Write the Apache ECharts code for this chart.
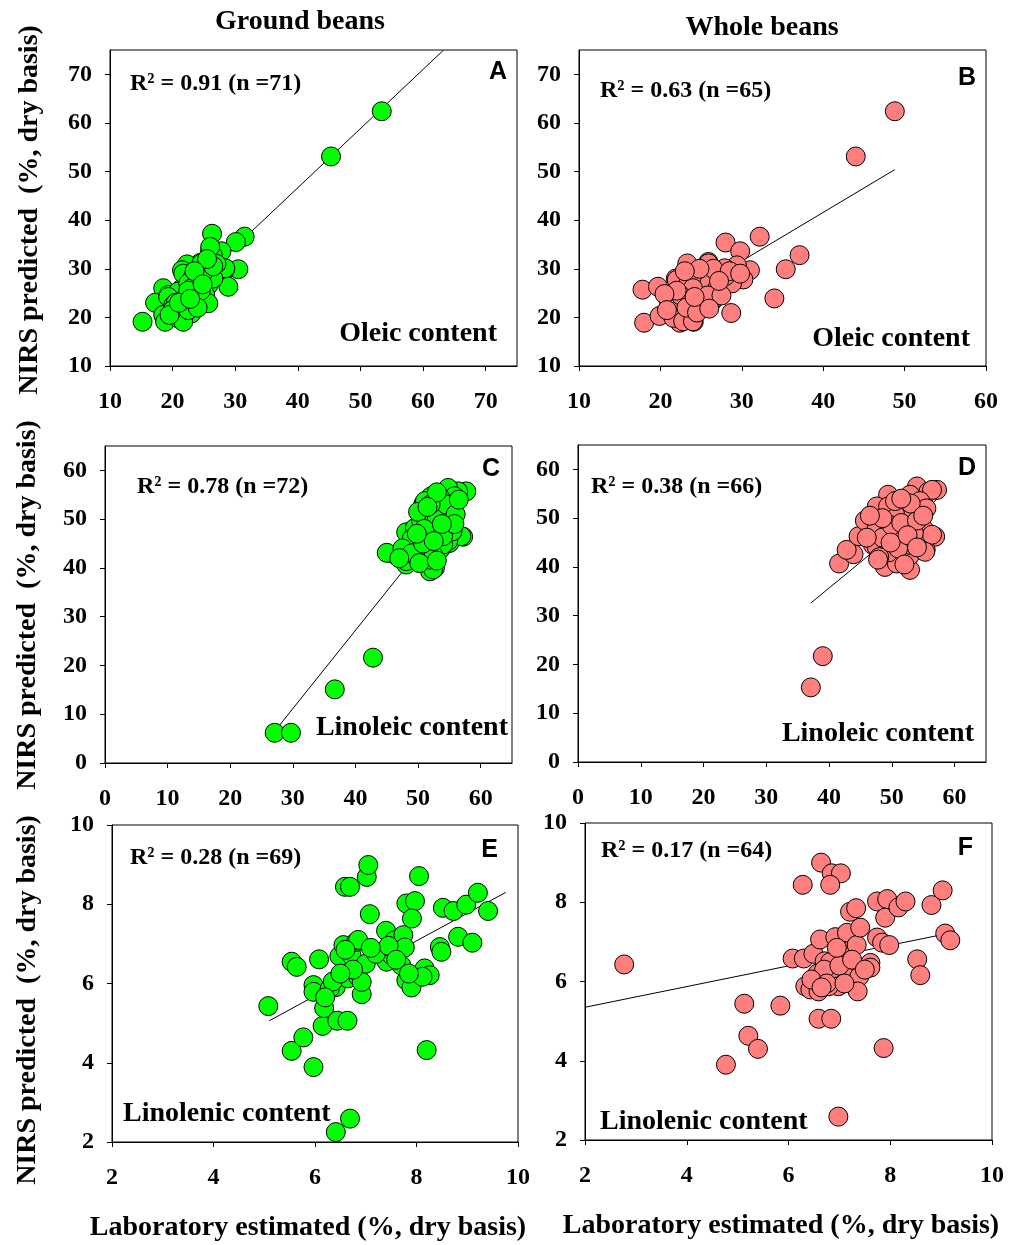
<!DOCTYPE html>
<html>
<head>
<meta charset="utf-8">
<script src="https://cdn.jsdelivr.net/npm/echarts@6/dist/echarts.min.js"></script>
<style>
  html, body { margin: 0; padding: 0; background: #fff; }
  #chart { width: 1010px; height: 1245px; }
</style>
</head>
<body>
<div id="chart"></div>
<script>
// ---- Oleic acid: laboratory value vs NIRS prediction ----
const oleicGround = [
  [53.4,62.4],[45.3,53.1],[31.5,36.6],[30.1,35.5],[26.3,37.2],[27.8,33.6],[26.0,33.7],[26.4,32.8],
  [30.5,29.9],[28.4,29.9],[28.9,26.3],[26.0,29.2],[24.4,31.2],[22.3,30.9],[21.5,29.7],[23.2,27.8],
  [25.3,26.3],[25.4,23.2],[24.0,23.6],[23.0,20.8],[21.7,19.8],[21.1,25.3],[21.5,26.0],[19.9,23.6],
  [18.5,26.0],[17.2,23.0],[18.5,20.5],[18.8,19.1],[15.2,19.1],[22.3,22.9],[21.2,21.1],[23.8,24.9],
  [20.7,24.2],[19.3,24.6],[26.0,34.5],[24.6,31.1],[21.7,29.0],[25.7,26.6],[20.9,25.3],[23.8,25.6],
  [25.2,24.6],[19.3,24.2],[23.8,23.6],[25.7,22.9],[20.1,22.5],[21.7,21.8],[20.9,19.8],[21.7,19.1],
  [23.1,28.0],[28.4,30.1],[22.5,27.0],[24.0,28.5],[23.0,26.0],[24.5,27.0],[22.0,24.0],[20.5,23.0],
  [24.5,25.5],[26.5,28.0],[27.0,31.0],[25.0,29.5],[22.5,25.5],[20.0,21.5],[19.5,20.5],[22.5,21.5],
  [24.0,22.0],[26.5,30.5],[25.5,32.0],[23.5,29.5],[21.0,23.0],[22.8,23.8],[24.8,26.8]
];
const oleicWhole = [
  [48.8,62.4],[44.0,53.1],[32.2,36.6],[37.1,32.8],[35.4,29.9],[34.0,23.9],[28.7,20.9],[28.0,35.4],
  [29.8,33.6],[31.0,29.7],[29.4,30.4],[30.2,27.8],[17.8,25.7],[18.0,18.9],[19.7,26.3],[19.9,20.3],
  [21.1,23.6],[23.3,31.1],[23.0,25.3],[24.1,19.1],[22.4,18.9],[25.5,29.4],[25.4,26.0],[26.5,23.6],
  [25.9,31.4],[27.3,29.0],[21.9,28.0],[21.8,20.5],[29.4,30.7],[25.9,31.1],[27.9,30.1],[27.3,28.7],
  [28.8,27.0],[22.0,27.7],[25.3,25.6],[21.0,23.6],[23.8,23.2],[26.3,23.3],[22.4,21.8],[25.1,22.5],
  [21.6,19.9],[22.8,19.2],[24.0,19.2],[23.5,27.5],[24.5,28.5],[26.0,27.0],[24.0,26.0],[22.5,24.5],
  [27.0,26.0],[28.0,28.5],[26.5,30.0],[24.8,30.0],[23.0,29.5],[25.8,24.5],[27.5,24.5],[22.0,25.5],
  [20.5,24.8],[23.2,22.0],[24.5,21.0],[26.0,21.8],[28.5,29.5],[29.8,29.0],[20.8,21.5],[24.2,24.2],
  [27.2,27.5]
];

// ---- Linoleic acid ----
const linoleicGround = [
  [27.1,6.2],[29.7,6.2],[36.7,15.1],[42.8,21.6],
  [48.1,47.3],[46.3,42.7],[45.0,43.1],[48.1,40.7],[48.9,41.7],[51.9,39.3],[52.7,40.0],[55.0,45.1],
  [57.2,46.4],[57.7,55.7],[56.4,55.7],[54.8,56.4],[53.7,51.6],[52.1,54.7],[50.8,53.0],[51.9,50.6],
  [53.2,47.5],[50.0,43.8],[53.7,44.1],[55.3,49.9],[55.8,54.7],[51.1,53.7],[53.5,52.0],[51.9,51.3],
  [55.3,52.0],[54.8,49.9],[52.7,48.9],[51.6,50.6],[56.9,46.5],[54.8,45.5],[52.9,47.5],[49.5,48.2],
  [50.5,46.2],[49.7,44.4],[48.1,41.4],[51.3,42.7],[53.5,43.8],[52.4,39.7],[51.9,41.7],[54.0,44.8],
  [50.5,49.5],[52.0,46.0],[53.0,50.0],[54.5,48.0],[49.0,46.0],[50.0,51.5],[53.5,54.5],[55.5,47.5],
  [51.0,44.5],[52.5,42.5],[47.5,44.0],[49.0,43.0],[50.2,41.0],[53.0,41.5],[54.5,53.0],[56.0,51.0],
  [52.0,53.0],[51.0,48.0],[54.0,46.5],[55.8,49.0],[47.0,42.0],[50.8,45.0],[53.8,49.0],[52.5,45.5],
  [49.8,47.0],[56.5,54.0],[53.0,55.5],[51.5,52.5]
];
const linoleicWhole = [
  [37.1,15.3],[39.0,21.7],[41.6,40.7],[43.9,42.6],[42.8,43.5],[44.7,46.3],[45.7,49.5],[47.8,52.0],
  [49.4,54.8],[48.9,40.0],[52.9,39.4],[50.5,42.6],[54.0,56.5],[57.2,55.8],[55.8,55.4],[52.9,54.8],
  [52.1,51.7],[56.9,46.2],[55.0,47.9],[54.5,45.5],[55.4,43.5],[49.4,47.6],[47.6,47.9],[47.0,44.5],
  [48.9,44.5],[50.8,46.2],[52.4,42.1],[49.2,51.7],[50.5,50.0],[56.4,55.8],[47.6,52.4],[51.8,52.0],
  [49.4,52.4],[50.8,50.3],[53.4,51.7],[56.4,46.6],[47.6,44.1],[50.5,42.4],[52.9,42.4],[50.8,40.7],
  [55.3,43.1],[51.3,45.9],[52.4,48.3],[48.5,46.0],[50.0,48.5],[51.5,49.0],[53.5,47.0],[54.0,49.5],
  [53.0,44.5],[49.5,43.0],[48.0,42.0],[51.0,43.8],[52.0,40.5],[54.5,53.5],[55.5,52.0],[53.0,53.0],
  [50.5,53.5],[48.5,50.0],[46.5,50.5],[46.0,46.0],[49.8,45.0],[52.5,46.5],[54.0,44.0],[51.5,54.0],
  [55.0,50.5],[47.8,41.5]
];

// ---- Linolenic acid ----
const linolenicGround = [
  [5.08,5.43],[5.54,6.55],[5.64,6.42],[5.54,4.30],[5.77,4.64],[5.97,3.89],[6.08,6.61],[5.97,5.96],
  [5.97,5.79],[6.15,4.93],[6.18,5.38],[6.44,5.06],[6.64,5.06],[6.41,5.91],[6.29,5.87],[6.65,6.13],
  [6.85,6.17],[6.92,5.73],[6.92,6.04],[6.48,6.69],[6.56,6.97],[6.72,6.71],[6.81,7.05],[6.85,7.10],
  [7.00,6.50],[6.59,8.44],[6.69,8.44],[7.02,8.69],[7.05,8.99],[7.08,7.75],[7.40,7.33],[7.31,6.80],
  [7.41,6.55],[7.51,6.71],[7.57,7.09],[7.74,7.22],[7.77,6.91],[7.70,6.46],[7.80,6.08],[7.90,5.90],
  [7.80,8.02],[7.97,8.08],[7.91,7.64],[8.05,8.71],[8.16,6.38],[8.26,6.21],[8.12,6.17],[8.20,4.32],
  [8.46,6.92],[8.49,6.80],[8.52,7.91],[8.73,7.83],[8.98,7.99],[9.21,8.29],[9.41,7.83],[8.82,7.18],
  [9.10,7.03],[6.41,2.25],[6.69,2.59],[6.35,6.05],[6.75,6.35],[6.60,6.85],[7.20,6.75],[7.45,6.95],
  [7.60,6.60],[6.50,6.25],[7.85,6.25],[6.20,5.65],[7.10,6.90]
];
const linolenicWhole = [
  [2.77,6.43],[5.13,5.44],[5.21,4.63],[5.40,4.30],[4.77,3.90],[5.84,5.39],[6.08,6.58],[6.30,6.58],
  [6.28,8.44],[6.64,9.00],[6.85,8.73],[7.03,8.73],[6.82,8.44],[6.59,5.06],[6.84,5.06],[6.98,2.59],
  [6.33,5.88],[6.43,5.80],[6.59,5.75],[6.57,6.20],[6.49,6.70],[6.62,7.06],[6.71,6.51],[6.92,7.12],
  [7.05,6.64],[6.93,6.09],[6.98,5.88],[6.79,5.88],[7.15,7.23],[7.18,6.77],[7.34,6.92],[7.41,7.36],
  [7.18,6.09],[7.39,6.12],[7.36,5.75],[7.21,7.76],[7.33,7.85],[7.61,6.47],[7.61,6.35],[7.74,8.02],
  [7.94,8.08],[7.90,7.61],[7.74,7.11],[7.84,6.98],[7.98,6.92],[7.87,4.32],[8.16,7.87],[8.30,8.02],
  [8.53,6.56],[8.59,6.16],[8.81,7.93],[9.03,8.30],[9.08,7.21],[9.18,7.04],[6.82,6.49],[6.70,6.30],
  [7.00,6.40],[6.45,6.05],[7.25,6.55],[6.75,5.95],[7.10,5.95],[6.65,5.85],[7.50,6.30],[6.95,6.85]
];

// Fitted regression lines (end points)
const oleicGroundFit = [[17.5,19.3],[63.2,74.9]];
const oleicWholeFit = [[18.5,20.1],[48.8,50.4]];
const linoleicGroundFit = [[27.1,6.5],[57.7,55.6]];
const linoleicWholeFit = [[37.1,32.6],[57.4,54.1]];
const linolenicGroundFit = [[5.10,5.06],[9.76,8.30]];
const linolenicWholeFit = [[2.0,5.35],[9.05,7.19]];

// Tick values
const ticksOleic = [10,20,30,40,50,60,70];
const ticksOleicWholeX = [10,20,30,40,50,60];
const ticksLinoleic = [0,10,20,30,40,50,60];
const ticksLinolenic = [2,4,6,8,10];

// Annotations
const columnTitles = ['Ground beans', 'Whole beans'];
const yTitle = 'NIRS predicted  (%, dry basis)';
const xTitle = 'Laboratory estimated (%, dry basis)';
const r2Labels = ['R² = 0.91 (n =71)','R² = 0.63 (n =65)','R² = 0.78 (n =72)','R² = 0.38 (n =66)','R² = 0.28 (n =69)','R² = 0.17 (n =64)'];
const panelLetters = ['A','B','C','D','E','F'];
const contentLabels = ['Oleic content','Oleic content','Linoleic content','Linoleic content','Linolenic content','Linolenic content'];

const SERIF = '"Liberation Serif", "Times New Roman", serif';
const SANS = '"Liberation Sans", Arial, sans-serif';
const GREEN = '#00ff00';
const PINK = '#ff7f7f';

const panels = [
  { grid: {left:110, top:50, width:407, height:316}, x:[10,75], y:[10,75], xt:ticksOleic, yt:ticksOleic, data:oleicGround, fit:oleicGroundFit, color:GREEN },
  { grid: {left:579, top:50, width:407, height:316}, x:[10,60], y:[10,75], xt:ticksOleicWholeX, yt:ticksOleic, data:oleicWhole, fit:oleicWholeFit, color:PINK },
  { grid: {left:105, top:446, width:407, height:317}, x:[0,65], y:[0,65], xt:ticksLinoleic, yt:ticksLinoleic, data:linoleicGround, fit:linoleicGroundFit, color:GREEN },
  { grid: {left:578, top:445, width:408, height:317}, x:[0,65], y:[0,65], xt:ticksLinoleic, yt:ticksLinoleic, data:linoleicWhole, fit:linoleicWholeFit, color:PINK },
  { grid: {left:112, top:825, width:406, height:317}, x:[2,10], y:[2,10], xt:ticksLinolenic, yt:ticksLinolenic, data:linolenicGround, fit:linolenicGroundFit, color:GREEN },
  { grid: {left:585, top:823, width:407, height:317}, x:[2,10], y:[2,10], xt:ticksLinolenic, yt:ticksLinolenic, data:linolenicWhole, fit:linolenicWholeFit, color:PINK }
];

const labelStyle = { color:'#000', fontFamily:SERIF, fontWeight:'bold', fontSize:24 };

const grids = [], xAxes = [], yAxes = [], series = [];
panels.forEach((p, i) => {
  grids.push(Object.assign({ show:true, borderColor:'#000', borderWidth:1, backgroundColor:'#fff' }, p.grid));
  xAxes.push({
    type:'value', gridIndex:i, min:p.x[0], max:p.x[1],
    axisLine:{ show:true, onZero:false, lineStyle:{ color:'#000', width:1 } },
    axisTick:{ show:true, inside:false, length:5, lineStyle:{ color:'#000' }, customValues:p.xt },
    axisLabel:Object.assign({ margin:24, customValues:p.xt }, labelStyle),
    splitLine:{ show:false }
  });
  yAxes.push({
    type:'value', gridIndex:i, min:p.y[0], max:p.y[1],
    axisLine:{ show:true, onZero:false, lineStyle:{ color:'#000', width:1 } },
    axisTick:{ show:true, inside:false, length:5, lineStyle:{ color:'#000' }, customValues:p.yt },
    axisLabel:Object.assign({ margin:18, customValues:p.yt }, labelStyle),
    splitLine:{ show:false }
  });
  series.push({
    type:'line', xAxisIndex:i, yAxisIndex:i, data:p.fit, symbol:'none', silent:true, z:1,
    lineStyle:{ color:'#000', width:1 }
  });
  series.push({
    type:'scatter', xAxisIndex:i, yAxisIndex:i, data:p.data, symbol:'circle', symbolSize:19, z:2,
    itemStyle:{ color:p.color, borderColor:'#000', borderWidth:1, opacity:1 }
  });
});

// Text placements: [x, y] anchors for each panel's annotations
const r2Pos = [[130,84],[600,91],[137,487],[591,487],[130,858],[601,851]];
const letterPos = [[507,72],[976,78],[500,469],[976,468],[498,850],[973,848]];
const contentPos = [[497,334,'right'],[970,339,'right'],[508,728,'right'],[974,734,'right'],[123,1114,'left'],[600,1122,'left']];

const graphics = [];
panels.forEach((p, i) => {
  graphics.push({ type:'text', x:r2Pos[i][0], y:r2Pos[i][1], z:10,
    style:{ text:r2Labels[i], fill:'#000', font:'bold 24px ' + SERIF, textAlign:'left', textVerticalAlign:'middle' } });
  graphics.push({ type:'text', x:letterPos[i][0], y:letterPos[i][1], z:10,
    style:{ text:panelLetters[i], fill:'#000', font:'bold 25px ' + SANS, textAlign:'right', textVerticalAlign:'middle' } });
  graphics.push({ type:'text', x:contentPos[i][0], y:contentPos[i][1], z:10,
    style:{ text:contentLabels[i], fill:'#000', font:'bold 28px ' + SERIF, textAlign:contentPos[i][2], textVerticalAlign:'middle' } });
});
graphics.push({ type:'text', x:300, y:22, style:{ text:columnTitles[0], fill:'#000', font:'bold 28px ' + SERIF, textAlign:'center', textVerticalAlign:'middle' } });
graphics.push({ type:'text', x:762, y:28, style:{ text:columnTitles[1], fill:'#000', font:'bold 28px ' + SERIF, textAlign:'center', textVerticalAlign:'middle' } });
[[30,210],[28,605],[28,1000]].forEach(pos => {
  graphics.push({ type:'text', x:pos[0], y:pos[1], rotation:Math.PI/2,
    style:{ text:yTitle, fill:'#000', font:'bold 28px ' + SERIF, textAlign:'center', textVerticalAlign:'middle' } });
});
graphics.push({ type:'text', x:308, y:1228, style:{ text:xTitle, fill:'#000', font:'bold 28px ' + SERIF, textAlign:'center', textVerticalAlign:'middle' } });
graphics.push({ type:'text', x:781, y:1226, style:{ text:xTitle, fill:'#000', font:'bold 28px ' + SERIF, textAlign:'center', textVerticalAlign:'middle' } });

const chart = echarts.init(document.getElementById('chart'), null, { renderer:'canvas' });
chart.setOption({
  animation:false,
  backgroundColor:'#fff',
  grid:grids,
  xAxis:xAxes,
  yAxis:yAxes,
  series:series,
  graphic:graphics
});
</script>
</body>
</html>
